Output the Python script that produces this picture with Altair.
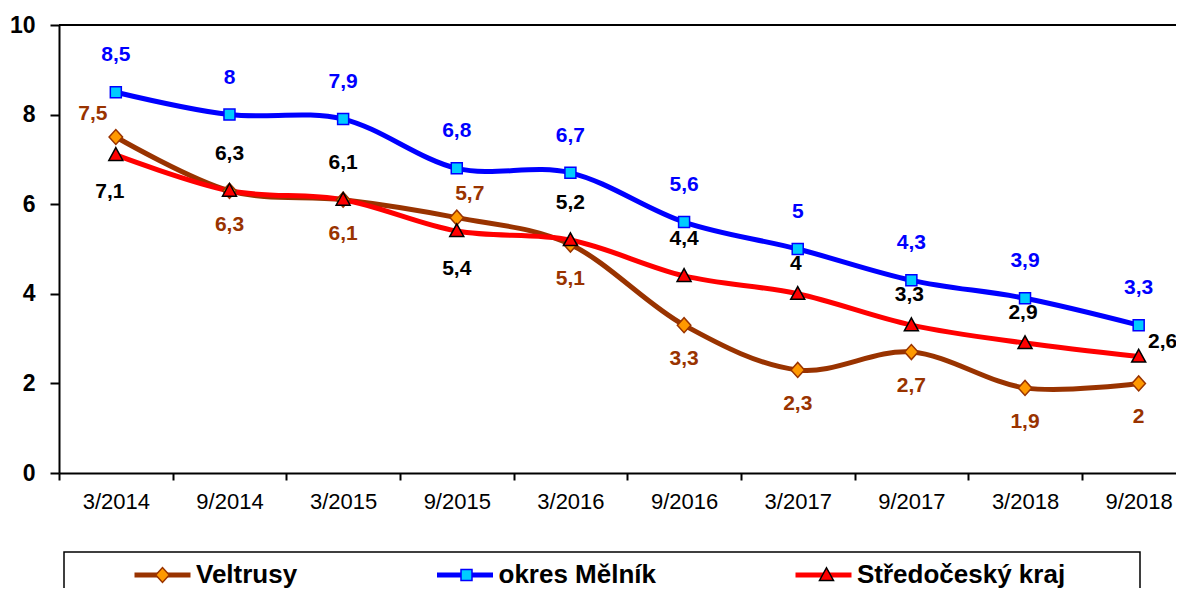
import json
import altair as alt
import pandas as pd

# ---------------- data ----------------
periods = ["3/2014", "9/2014", "3/2015", "9/2015", "3/2016",
           "9/2016", "3/2017", "9/2017", "3/2018", "9/2018"]
series_names = ["Veltrusy", "okres Mělník", "Středočeský kraj"]
veltrusy = [7.5, 6.3, 6.1, 5.7, 5.1, 3.3, 2.3, 2.7, 1.9, 2.0]
melnik = [8.5, 8.0, 7.9, 6.8, 6.7, 5.6, 5.0, 4.3, 3.9, 3.3]
kraj = [7.1, 6.3, 6.1, 5.4, 5.2, 4.4, 4.0, 3.3, 2.9, 2.6]

# label placement per point (style)
veltrusy_pos = ["above-left", "below", "below", "above-right", "below",
                "below", "below", "below", "below", "below"]
melnik_pos = ["above"] * 10
kraj_pos = ["below-left", "above", "above", "below-far", "above",
            "above", "above-near", "above-near", "above-near", "right"]

# ---------------- styles ----------------
FONT = "Liberation Sans"
line_colors = ["#993300", "#0000FF", "#FF0000"]
marker_fills = ["#FF9900", "#00CCFF", "#FF0000"]
marker_strokes = ["#993300", "#0000FF", "#000000"]
label_colors = {"Veltrusy": "#993300", "okres Mělník": "#0000FF",
                "Středočeský kraj": "#000000"}
label_offsets = {"above": (0, -37), "above-near": (-2, -30), "below": (0, 34),
                 "below-far": (0, 38), "below-left": (-6, 37),
                 "above-left": (-23, -23), "above-right": (13, -24), "right": (24, -15)}

W, H = 1117, 448
BAND = 113.65
XMAX = -0.5 + W / BAND

PT_SIZE = 625  # r = 12.5 px per unit of custom path
R = (PT_SIZE ** 0.5) / 2
EXT = 31.5 / R


def shape_path(p):
    return f"M{-EXT:.3f},0M{EXT:.3f},0{p}"


marker_shapes = [
    shape_path("M-0.54,0L0,-0.6L0.54,0L0,0.6Z"),
    shape_path("M-0.44,-0.44L0.44,-0.44L0.44,0.44L-0.44,0.44Z"),
    shape_path("M0,-0.58L0.56,0.44L-0.56,0.44Z"),
]
PT_PREFIX = "pt:"
marker_names = [PT_PREFIX + n for n in series_names]

rows = []
for name, vals, poss in zip(series_names, [veltrusy, melnik, kraj],
                            [veltrusy_pos, melnik_pos, kraj_pos]):
    for i, (v, p) in enumerate(zip(vals, poss)):
        rows.append({"idx": i, "value": v, "series": name, "marker": PT_PREFIX + name,
                     "label": f"{v:g}".replace(".", ","), "pos": p,
                     "lcolor": label_colors[name]})
df = pd.DataFrame(rows)

# ---------------- axes ----------------
tick_vals = [i * 0.5 - 0.5 for i in range(20)]
x_axis = alt.Axis(
    values=tick_vals, title=None, grid=False,
    labelExpr=f"datum.value % 1 === 0 ? {json.dumps(periods)}[datum.value] : ''",
    tickOpacity={"condition": {"test": "datum.value % 1 !== 0", "value": 1}, "value": 0},
    tickSize=7, tickWidth=2, tickColor="black",
    domainColor="black", domainWidth=2,
    labelFont=FONT, labelFontSize=22, labelColor="black", labelPadding=11,
    labelOverlap=False, labelFlush=False, labelBound=False,
)
y_axis = alt.Axis(
    values=[0, 2, 4, 6, 8, 10], title=None, grid=False,
    tickSize=9, tickWidth=2, tickColor="black",
    domainColor="black", domainWidth=2,
    labelFont=FONT, labelFontSize=23, labelFontWeight="bold",
    labelColor="black", labelPadding=15, labelFlush=False,
)
x_enc = alt.X("idx:Q", scale=alt.Scale(domain=[-0.5, XMAX], nice=False, zero=False), axis=x_axis)
y_enc = alt.Y("value:Q", scale=alt.Scale(domain=[0, 10], nice=False, zero=True), axis=y_axis)

# ---------------- legends ----------------
LO_L = 3
common_leg = dict(
    orient="none", legendX=5, legendY=527, direction="horizontal", columns=3,
    gridAlign="each", padding=11, clipHeight=24,
    title=" ", titleOrient="left", titlePadding=57, titleFontSize=10,
    labelFont=FONT, labelFontSize=26, labelFontWeight="bold",
    labelColor="black", labelLimit=800,
)
line_legend = alt.Legend(
    symbolType="stroke", symbolSize=3136, symbolStrokeWidth=5,
    symbolOffset=0, labelOffset=LO_L, columnPadding=136.5,
    **common_leg,
)
# marker legend (labels hidden) also carries the legend frame
pt_legend = alt.Legend(
    symbolSize=PT_SIZE, symbolStrokeWidth=1.5, symbolOffset=17,
    labelOffset=LO_L + 34, labelOpacity=0, columnPadding=121,
    labelExpr=(f"datum.value == '{PT_PREFIX}Středočeský kraj' ? "
               f"slice(datum.label, {len(PT_PREFIX)}) + 'MM' : slice(datum.label, {len(PT_PREFIX)})"),
    strokeColor="black",
    **common_leg,
)

color_enc = alt.Color("series:N", scale=alt.Scale(domain=series_names, range=line_colors),
                      legend=line_legend)

base = alt.Chart(df)

layers = []
# top border of plot area
layers.append(
    alt.Chart(pd.DataFrame({"value": [10]})).mark_rule(color="black", strokeWidth=2).encode(y=y_enc)
)
# smoothed lines
for name in series_names:
    layers.append(
        base.transform_filter(alt.datum.series == name)
        .mark_line(interpolate="cardinal", strokeWidth=5)
        .encode(x=x_enc, y=y_enc, color=color_enc)
    )
# markers
layers.append(
    base.mark_point(filled=True, opacity=1, strokeWidth=1.5, size=PT_SIZE).encode(
        x=x_enc, y=y_enc,
        shape=alt.Shape("marker:N", scale=alt.Scale(domain=marker_names, range=marker_shapes), legend=pt_legend),
        fill=alt.Fill("marker:N", scale=alt.Scale(domain=marker_names, range=marker_fills), legend=pt_legend),
        stroke=alt.Stroke("marker:N", scale=alt.Scale(domain=marker_names, range=marker_strokes), legend=pt_legend),
    )
)
# data labels
for pos, (dx, dy) in label_offsets.items():
    layers.append(
        base.transform_filter(alt.datum.pos == pos)
        .mark_text(font=FONT, fontSize=21, fontWeight="bold", dx=dx, dy=dy,
                   align="center", baseline="middle")
        .encode(x=x_enc, y=y_enc, text="label:N", color=alt.Color("lcolor:N", scale=None))
    )

chart = (
    alt.layer(*layers)
    .properties(width=W, height=H, autosize=alt.AutoSizeParams(type="none"),
                padding={"left": 51, "top": 17, "right": 0, "bottom": 115},
                background="white")
    .configure_view(stroke=None)
    .configure_legend(strokeWidth=1.5)
)

chart.save("out.html", embed_options={"renderer": "svg", "actions": False})
